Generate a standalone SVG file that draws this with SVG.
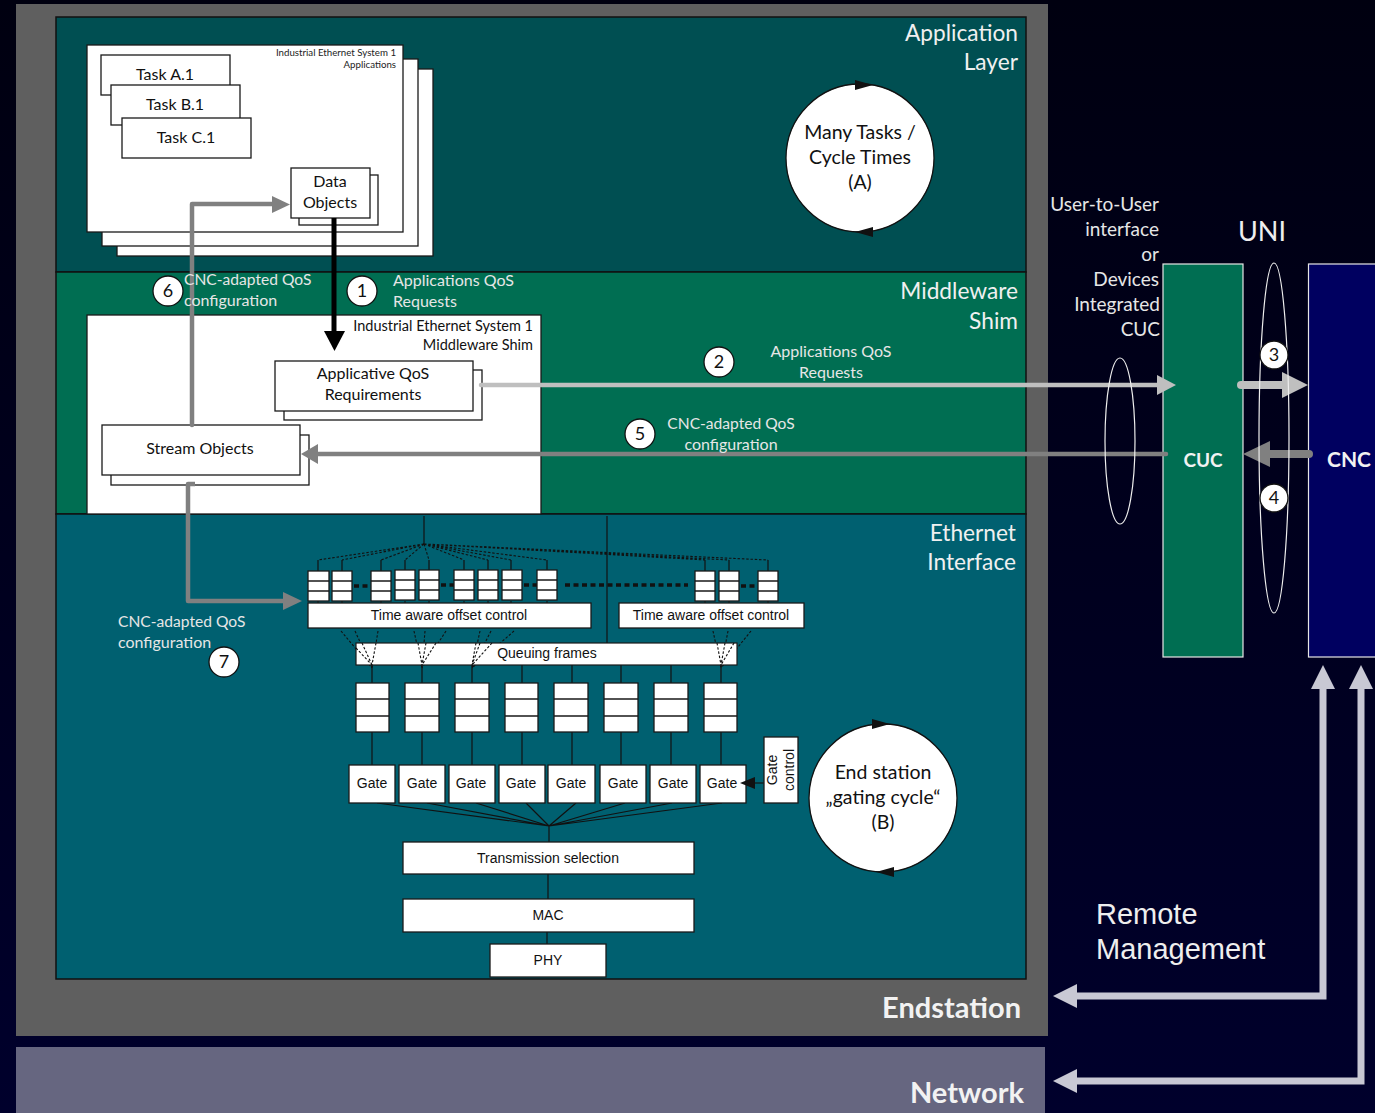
<svg xmlns="http://www.w3.org/2000/svg" width="1375" height="1113" viewBox="0 0 1375 1113">
<defs>
<linearGradient id="bg" x1="0" y1="0" x2="0" y2="1"><stop offset="0" stop-color="#000010"/><stop offset="1" stop-color="#00002c"/></linearGradient>
<style>
text{font-family:"Lato","Open Sans","Liberation Sans",sans-serif}
.w{fill:#fff;stroke:#1a1a1a;stroke-width:1.3}
.lbl{fill:#e6e6e6;font-size:16px}
.cn{fill:#e6e6e6;font-size:15.6px}
.big{fill:#eeeeee;font-size:23px}
.ttl{fill:#f0f0f0;font-size:22.700px;text-anchor:end}
.bk{fill:#111;font-size:16px;text-anchor:middle}
.ci{fill:#111;font-size:19.500px;text-anchor:middle}
.ar{font-family:"Liberation Sans",Arial,sans-serif;fill:#111;font-size:14px;text-anchor:middle}
.sm{fill:#222;font-size:9.7px;text-anchor:end}
.num{fill:#111;font-size:18px;text-anchor:middle}
.ln{stroke:#111;stroke-width:1.2;fill:none}
.dt{stroke:#111;stroke-width:1.1;stroke-dasharray:2.5 1.8;fill:none}
.nc{fill:#fff;stroke:#111;stroke-width:1.3}
.heavy{font-weight:700;font-size:29px;fill:#f2f2f2;text-anchor:end}
</style>
</defs>
<rect width="1375" height="1113" fill="url(#bg)"/>
<rect x="16" y="4" width="1032" height="1032" fill="#5f5f5f"/>
<rect x="16" y="1047" width="1029" height="66" fill="#666680"/>
<rect x="56" y="17" width="970" height="255" fill="#004f52" stroke="#111" stroke-width="1.5"/>
<rect x="56" y="272" width="970" height="242" fill="#006e52" stroke="#111" stroke-width="1.5"/>
<rect x="56" y="514" width="970" height="465" fill="#006070" stroke="#111" stroke-width="1.5"/>

<g id="layer-labels">
<text class="ttl" x="1018" y="41">Application</text><text class="ttl" x="1018" y="70">Layer</text>
<text class="ttl" x="1018" y="299">Middleware</text><text class="ttl" x="1018" y="329">Shim</text>
<text class="ttl" x="1016" y="541">Ethernet</text><text class="ttl" x="1016" y="570">Interface</text>
<text class="heavy" x="1021" y="1018">Endstation</text>
<text class="heavy" x="1024" y="1103">Network</text>
</g>

<g id="app-system">
<rect class="w" x="117" y="69" width="316" height="187"/>
<rect class="w" x="102" y="59" width="316" height="187"/>
<rect class="w" x="87" y="45" width="316" height="187"/>
<text class="sm" x="396" y="56">Industrial Ethernet System 1</text>
<text class="sm" x="396" y="68">Applications</text>
</g>
<g id="task-a"><rect class="w" x="101" y="55" width="129" height="40"/><text class="bk" x="165" y="80">Task A.1</text></g>
<g id="task-b"><rect class="w" x="111" y="85" width="129" height="40"/><text class="bk" x="175" y="110">Task B.1</text></g>
<g id="task-c"><rect class="w" x="122" y="118" width="129" height="40"/><text class="bk" x="186" y="143">Task C.1</text></g>
<g id="data-objects">
<rect class="w" x="299" y="175" width="79" height="50"/>
<rect class="w" x="291" y="168" width="79" height="50"/>
<text class="bk" x="330" y="187">Data</text><text class="bk" x="330" y="208">Objects</text>
</g>

<g id="mw-system">
<rect class="w" x="87" y="315" width="454" height="199"/>
<text class="bk" x="533" y="331" style="text-anchor:end;font-size:14.5px">Industrial Ethernet System 1</text>
<text class="bk" x="533" y="350" style="text-anchor:end;font-size:14.5px">Middleware Shim</text>
</g>
<g id="applicative-qos">
<rect class="w" x="284" y="370" width="198" height="50"/>
<rect class="w" x="275" y="361" width="198" height="50"/>
<text class="bk" x="373" y="379">Applicative QoS</text><text class="bk" x="373" y="400">Requirements</text>
</g>
<g id="stream-objects">
<rect class="w" x="111" y="435" width="198" height="50"/>
<rect class="w" x="102" y="425" width="198" height="50"/>
<text class="bk" x="200" y="454">Stream Objects</text>
</g>

<g id="many-tasks">
<circle cx="860" cy="158" r="74" class="nc"/>
<path d="M855 80l18 5-18 5zM873 227l-18 5 18 5z" fill="#111"/>
<text class="ci" x="860" y="139">Many Tasks /</text><text class="ci" x="860" y="164">Cycle Times</text><text class="ci" x="860" y="189">(A)</text>
</g>
<g id="gating-cycle">
<circle cx="883" cy="798" r="74" class="nc"/>
<path d="M872 719l18 5-18 5zM894 867l-18 5 18 5z" fill="#111"/>
<text class="ci" x="883" y="779">End station</text><text class="ci" x="883" y="804">„gating cycle“</text><text class="ci" x="883" y="829">(B)</text>
</g>

<g id="ethernet-lines">
<path class="ln" d="M424 516V544M607 516V643M318 560V571M342 560V571M381 560V571M405 560V570M429 560V570M464 560V571M488 560V570M511 560V570M547 560V570M705 560V571M729 560V571M768 560V571"/>
<path class="dt" d="M424 544L318 560M424 544L342 560M424 544L381 560M424 544L405 560M424 544L429 560M424 544L464 560M424 544L488 560M424 544L511 560M424 544L547 560M424 544L705 560M424 544L729 560M424 544L768 560"/>
<path d="M354 586H371M441 585H454M524 585H537M565 585H688M741 586H758" stroke="#111" stroke-width="3.500" stroke-dasharray="5 3.500" fill="none"/>
<path class="dt" d="M341 631L372 668M355 631L372 668M378 631L372 668M414 631L422 668M425 631L422 668M446 631L422 668M480 631L472 668M491 631L472 668M514 631L472 668M713 631L721 668M728 631L721 668M751 631L721 668"/>
<path class="dt" d="M318 601V603M342 601V603M381 601V603M405 601V603M429 601V603M464 601V603M488 601V603M511 601V603M547 601V603M705 601V603M729 601V603M768 601V603"/>
<path class="ln" d="M372 665V683M422 665V683M472 665V683M522 665V683M572 665V683M621 665V683M671 665V683M721 665V683M372 732V765M422 732V765M472 732V765M522 732V765M572 732V765M621 732V765M671 732V765M721 732V765"/>
<path class="ln" d="M377 803L549 826M427 803L549 826M476 803L549 826M526 803L549 826M576 803L549 826M625 803L549 826M672 803L549 826M722 803L549 826M549 826V842M548 874V899M547 932V944"/>
<path class="ln" d="M764 783H755"/>
</g>
<g id="queues-top">
<g class="w">
<rect x="308" y="571" width="21" height="30"/><path d="M308 581H329M308 591H329"/>
<rect x="332" y="571" width="20" height="30"/><path d="M332 581H352M332 591H352"/>
<rect x="371" y="571" width="20" height="30"/><path d="M371 581H391M371 591H391"/>
<rect x="395" y="570" width="20" height="30"/><path d="M395 580H415M395 590H415"/>
<rect x="419" y="570" width="20" height="30"/><path d="M419 580H439M419 590H439"/>
<rect x="454" y="570" width="20" height="30"/><path d="M454 580H474M454 590H474"/>
<rect x="478" y="570" width="20" height="30"/><path d="M478 580H498M478 590H498"/>
<rect x="502" y="570" width="20" height="30"/><path d="M502 580H522M502 590H522"/>
<rect x="537" y="570" width="20" height="30"/><path d="M537 580H557M537 590H557"/>
<rect x="695" y="571" width="20" height="30"/><path d="M695 581H715M695 591H715"/>
<rect x="719" y="571" width="20" height="30"/><path d="M719 581H739M719 591H739"/>
<rect x="758" y="571" width="20" height="30"/><path d="M758 581H778M758 591H778"/>
</g>
</g>
<g id="offset-control-1"><rect class="w" x="308" y="603" width="283" height="25"/><text class="ar" x="449" y="620">Time aware offset control</text></g>
<g id="offset-control-2"><rect class="w" x="619" y="603" width="185" height="25"/><text class="ar" x="711" y="620">Time aware offset control</text></g>
<g id="queuing-frames"><rect x="356" y="643" width="381" height="22" fill="#fff" stroke="#1a1a1a" stroke-width="1.200"/><text class="ar" x="547" y="658">Queuing frames</text>
<path class="dt" d="M356 648L372 665M362 643L372 665M376 643L372 665M418 643L422 665M426 643L422 665M436 643L422 665M476 643L472 665M480 643L472 665M492 643L472 665M717 643L721 665M725 643L721 665M734 643L721 665"/></g>
<g id="queues-bottom">
<g class="w">
<rect x="356" y="683" width="33" height="49"/><path d="M356 699H389M356 716H389"/>
<rect x="405" y="683" width="34" height="49"/><path d="M405 699H439M405 716H439"/>
<rect x="455" y="683" width="34" height="49"/><path d="M455 699H489M455 716H489"/>
<rect x="505" y="683" width="33" height="49"/><path d="M505 699H538M505 716H538"/>
<rect x="554" y="683" width="34" height="49"/><path d="M554 699H588M554 716H588"/>
<rect x="604" y="683" width="34" height="49"/><path d="M604 699H638M604 716H638"/>
<rect x="654" y="683" width="34" height="49"/><path d="M654 699H688M654 716H688"/>
<rect x="704" y="683" width="33" height="49"/><path d="M704 699H737M704 716H737"/>
</g>
</g>
<g id="gates">
<rect class="w" x="349" y="765" width="46" height="38"/><text class="ar" x="372" y="788">Gate</text>
<rect class="w" x="399" y="765" width="46" height="38"/><text class="ar" x="422" y="788">Gate</text>
<rect class="w" x="449" y="765" width="46" height="38"/><text class="ar" x="471" y="788">Gate</text>
<rect class="w" x="499" y="765" width="46" height="38"/><text class="ar" x="521" y="788">Gate</text>
<rect class="w" x="548" y="765" width="47" height="38"/><text class="ar" x="571" y="788">Gate</text>
<rect class="w" x="600" y="765" width="46" height="38"/><text class="ar" x="623" y="788">Gate</text>
<rect class="w" x="650" y="765" width="46" height="38"/><text class="ar" x="673" y="788">Gate</text>
<rect class="w" x="700" y="765" width="46" height="38"/><text class="ar" x="722" y="788">Gate</text>
</g>
<path d="M740 783L755 777V789Z" fill="#111"/>
<g id="gate-control"><rect class="w" x="764" y="737" width="34" height="66"/>
<text class="ar" transform="translate(777 770) rotate(-90)">Gate</text><text class="ar" transform="translate(794 770) rotate(-90)">control</text></g>
<g id="tx-selection"><rect class="w" x="403" y="842" width="291" height="32"/><text class="ar" x="548" y="863">Transmission selection</text></g>
<g id="mac"><rect class="w" x="403" y="899" width="291" height="33"/><text class="ar" x="548" y="920">MAC</text></g>
<g id="phy"><rect class="w" x="490" y="944" width="116" height="33"/><text class="ar" x="548" y="965">PHY</text></g>

<g id="cuc"><rect x="1163" y="264" width="80" height="393" fill="#006e52" stroke="#e6e6e6" stroke-width="1.200"/><text x="1203" y="467" fill="#f2f2f2" font-size="19" font-weight="700" text-anchor="middle">CUC</text></g>
<g id="cnc"><rect x="1308.500" y="264" width="80" height="393" fill="#000060" stroke="#e6e6e6" stroke-width="1.200"/><text x="1349" y="467" fill="#f2f2f2" font-size="21" font-weight="700" text-anchor="middle">CNC</text></g>

<g id="connectors" fill="none">
<path d="M334 218V332" stroke="#000" stroke-width="5"/><path d="M324 331H345L334.500 351Z" fill="#000"/>
<path d="M192 425V204H274" stroke="#808080" stroke-width="4.500" stroke-linejoin="round" stroke-linecap="round"/><path d="M272 196L290 204.500L272 213Z" fill="#808080"/>
<path d="M195 484H188V601H284" stroke="#808080" stroke-width="4.500" stroke-linejoin="round"/><path d="M283 592L302 601L283 610Z" fill="#808080"/>
<path d="M481 385H1160" stroke="#bfbfbf" stroke-width="4.500" stroke-linecap="round"/><path d="M1157 375L1176 385L1157 395Z" fill="#bfbfbf"/>
<path d="M1166 454H316" stroke="#808080" stroke-width="4.500" stroke-linecap="round"/><path d="M318 444L301 454L318 464Z" fill="#808080"/>
<path d="M1241 385H1285" stroke="#bfbfbf" stroke-width="8" stroke-linecap="round"/><path d="M1282 372L1308 385L1282 398Z" fill="#bfbfbf"/>
<path d="M1309 454H1268" stroke="#808080" stroke-width="8" stroke-linecap="round"/><path d="M1270 441L1243 454L1270 467Z" fill="#808080"/>
<ellipse cx="1120" cy="441" rx="15" ry="83" stroke="#eee" stroke-width="1.200"/>
<ellipse cx="1274" cy="438" rx="15" ry="175" stroke="#eee" stroke-width="1.200"/>
<path d="M1323 682V996H1070" stroke="#c8c8d4" stroke-width="7"/><path d="M1311 689L1323 665L1335 689Z" fill="#c8c8d4"/><path d="M1077 984L1053 996L1077 1008Z" fill="#c8c8d4"/>
<path d="M1361 682V1081H1070" stroke="#c8c8d4" stroke-width="7"/><path d="M1349 689L1361 665L1373 689Z" fill="#c8c8d4"/><path d="M1077 1069L1053 1081L1077 1093Z" fill="#c8c8d4"/>
</g>

<g id="labels">
<text class="cn" x="184" y="285">CNC-adapted QoS</text><text class="lbl" x="184" y="306">configuration</text>
<text class="lbl" x="393" y="286">Applications QoS</text><text class="lbl" x="393" y="307">Requests</text>
<text class="lbl" x="831" y="357" text-anchor="middle">Applications QoS</text><text class="lbl" x="831" y="378" text-anchor="middle">Requests</text>
<text class="cn" x="731" y="429" text-anchor="middle">CNC-adapted QoS</text><text class="lbl" x="731" y="450" text-anchor="middle">configuration</text>
<text class="cn" x="118" y="627">CNC-adapted QoS</text><text class="lbl" x="118" y="648">configuration</text>
<g text-anchor="end" class="lbl" style="font-size:19px">
<text x="1159" y="211">User-to-User</text><text x="1159" y="236">interface</text><text x="1159" y="261">or</text><text x="1159" y="286">Devices</text><text x="1160" y="311">Integrated</text><text x="1160" y="336">CUC</text>
</g>
<text class="big" x="1262" y="241" text-anchor="middle" style="font-size:27px">UNI</text>
<text x="1096" y="924" fill="#eee" font-size="29" style="font-family:'Liberation Sans',Arial,sans-serif">Remote</text>
<text x="1096" y="959" fill="#eee" font-size="29" style="font-family:'Liberation Sans',Arial,sans-serif">Management</text>
</g>

<g id="step-1"><circle class="nc" cx="362" cy="291" r="15"/><text class="num" x="362" y="297">1</text></g>
<g id="step-2"><circle class="nc" cx="719" cy="362" r="15"/><text class="num" x="719" y="368">2</text></g>
<g id="step-3"><circle class="nc" cx="1274" cy="355" r="14"/><text class="num" x="1274" y="361">3</text></g>
<g id="step-4"><circle class="nc" cx="1274" cy="498" r="14"/><text class="num" x="1274" y="504">4</text></g>
<g id="step-5"><circle class="nc" cx="640" cy="434" r="15"/><text class="num" x="640" y="440">5</text></g>
<g id="step-6"><circle class="nc" cx="168" cy="291" r="15"/><text class="num" x="168" y="297">6</text></g>
<g id="step-7"><circle class="nc" cx="224" cy="662" r="15"/><text class="num" x="224" y="668">7</text></g>
</svg>
